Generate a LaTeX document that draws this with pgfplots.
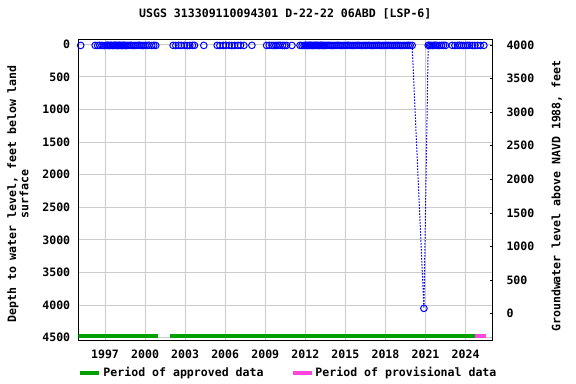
\documentclass[border=0pt]{standalone}
\usepackage{pgfplots}
\pgfplotsset{compat=1.18}
\usepackage{fontspec}
\setmainfont{DejaVu Sans Mono}
\definecolor{ptblue}{RGB}{0,0,255}
\definecolor{apgreen}{RGB}{0,160,0}
\definecolor{prpink}{RGB}{255,70,220}
\definecolor{gridgray}{RGB}{204,204,204}
\begin{document}
\begin{tikzpicture}[font=\fontsize{11.6}{13}\selectfont\bfseries]
\path[use as bounding box] (0,0) rectangle (576bp,384bp);
\begin{axis}[
  at={(78.3bp,43.3bp)}, anchor=south west,
  scale only axis, width=414bp, height=301.4bp,
  xmin=1995, xmax=2026,
  ymin=-76, ymax=4546, y dir=reverse,
  xtick={1997,2000,...,2024},
  ytick={0,500,...,4500},
  /pgf/number format/assume math mode=true,
  /pgf/number format/1000 sep={},
  grid=major, major grid style={gridgray, line width=0.9bp},
  major tick length=0pt,
  axis line style={black, line width=1bp},
  xticklabel style={yshift=-6bp},
  yticklabel style={xshift=-4.6bp},
  title={USGS 313309110094301 D-22-22 06ABD [LSP-6]},
  title style={at={(axis description cs:0.5,1)}, anchor=center, yshift=19.5bp},
  ylabel={Depth to water level, feet below land\\surface},
  ylabel style={at={(axis description cs:-0.146,0.487)}, anchor=center, align=center, font=\fontsize{11.6}{12.3}\selectfont\bfseries},
  legend style={at={(axis description cs:0,0)}, anchor=west, yshift=-32bp, xshift=-3bp, draw=none, fill=none, legend columns=2, /tikz/every even column/.append style={column sep=25bp}},
  legend cell align=left,
  legend image code/.code={\draw[line width=4bp, #1] (0bp,0bp) -- (19bp,0bp);},
]
% approved / provisional periods
\addplot[apgreen, line width=4bp] coordinates {(1994.9,4475) (2000.96,4475)};
\addlegendentry{Period of approved data}
\addplot[prpink, line width=4bp] coordinates {(2024.7,4475) (2025.5,4475)};
\addlegendentry{Period of provisional data}
\addplot[apgreen, line width=4bp, forget plot] coordinates {(2001.88,4475) (2024.7,4475)};
% dotted connection through spike
\addplot[ptblue, line width=1bp, dash pattern=on 1.5bp off 1.5bp, forget plot] coordinates {(2020.0,18) (2020.88,4050) (2021.2,16)};
% measurements
\addplot[only marks, mark=o, mark size=3.3bp, mark options={ptblue, line width=1bp}, forget plot] coordinates {
(1995.18,18)
(1996.26,17) (1996.45,19) (1996.6,16) (1996.78,18) (1996.95,20) (1997.1,17) (1997.2,15) (1997.28,18)
(1997.36,19) (1997.44,16) (1997.52,17) (1997.6,20) (1997.68,18) (1997.76,15) (1997.84,17) (1997.92,19)
(1998.0,18) (1998.08,16) (1998.16,17) (1998.24,19) (1998.32,18) (1998.4,16) (1998.48,17) (1998.56,20)
(1998.66,18) (1998.8,17) (1998.95,16) (1999.1,19) (1999.25,18) (1999.4,17) (1999.55,15) (1999.7,18)
(1999.85,19) (2000.0,17) (2000.15,18) (2000.3,16) (2000.5,19) (2000.65,17) (2000.8,18)
(2002.1,17) (2002.3,19) (2002.5,16) (2002.7,18) (2002.95,17) (2003.15,20) (2003.35,18) (2003.55,16) (2003.7,17)
(2004.4,18)
(2005.4,17) (2005.6,19) (2005.85,18) (2006.05,16) (2006.3,17) (2006.5,19) (2006.7,18) (2006.95,17) (2007.15,16) (2007.4,18)
(2008.0,17)
(2009.1,18) (2009.3,16) (2009.5,17) (2009.65,19) (2009.8,18) (2009.95,17) (2010.1,16) (2010.3,18) (2010.45,19) (2010.6,17)
(2011.0,18)
(2011.6,17) (2011.75,19) (2011.9,18) (2012.0,16) (2012.08,17) (2012.16,19) (2012.24,18) (2012.32,17)
(2012.4,16) (2012.48,18) (2012.56,19) (2012.64,17) (2012.72,18) (2012.8,16) (2012.88,17) (2012.96,19)
(2013.04,18) (2013.12,17) (2013.2,16) (2013.28,18) (2013.36,19) (2013.44,17) (2013.55,18) (2013.7,16)
(2013.85,17) (2014.0,19) (2014.15,18) (2014.3,17) (2014.45,16) (2014.6,18) (2014.75,19) (2014.9,17)
(2015.05,18) (2015.2,16) (2015.35,17) (2015.5,19) (2015.65,18) (2015.8,17) (2015.95,16) (2016.1,18)
(2016.25,19) (2016.4,17) (2016.55,18) (2016.7,16) (2016.85,17) (2017.0,19) (2017.15,18) (2017.3,17)
(2017.45,16) (2017.6,18) (2017.75,19) (2017.9,17) (2018.05,18) (2018.2,16) (2018.35,17) (2018.5,19)
(2018.65,18) (2018.8,17) (2018.95,16) (2019.1,18) (2019.25,19) (2019.4,17) (2019.55,18) (2019.7,16)
(2019.85,17) (2020.0,18)
(2020.88,4050)
(2021.2,16) (2021.3,18) (2021.4,17) (2021.5,19) (2021.6,18) (2021.7,16) (2021.8,17) (2021.9,19)
(2022.05,18) (2022.2,17) (2022.35,16) (2022.5,18)
(2023.0,17) (2023.2,19) (2023.4,18) (2023.55,16) (2023.7,17) (2023.85,19) (2024.0,18) (2024.15,17)
(2024.3,16) (2024.5,18) (2024.7,19) (2024.9,17) (2025.1,18) (2025.37,17)
};
\end{axis}
\begin{axis}[
  at={(78.3bp,43.3bp)}, anchor=south west,
  scale only axis, width=414bp, height=301.4bp,
  xmin=1995, xmax=2026,
  ymin=-401, ymax=4085,
  axis x line=none,
  axis y line*=right,
  axis line style={black, line width=1bp},
  ytick={0,500,...,4000},
  /pgf/number format/assume math mode=true,
  /pgf/number format/1000 sep={},
  major tick length=2.5bp,
  tick style={black, line width=0.9bp},
  tick align=inside,
  yticklabel style={xshift=10.7bp},
  ylabel={Groundwater level above NAVD 1988, feet},
  ylabel style={at={(axis description cs:1.1556,0.48)}, anchor=center},
]
\addplot[draw=none, forget plot] coordinates {(2000,0)};
\end{axis}
\end{tikzpicture}
\end{document}
